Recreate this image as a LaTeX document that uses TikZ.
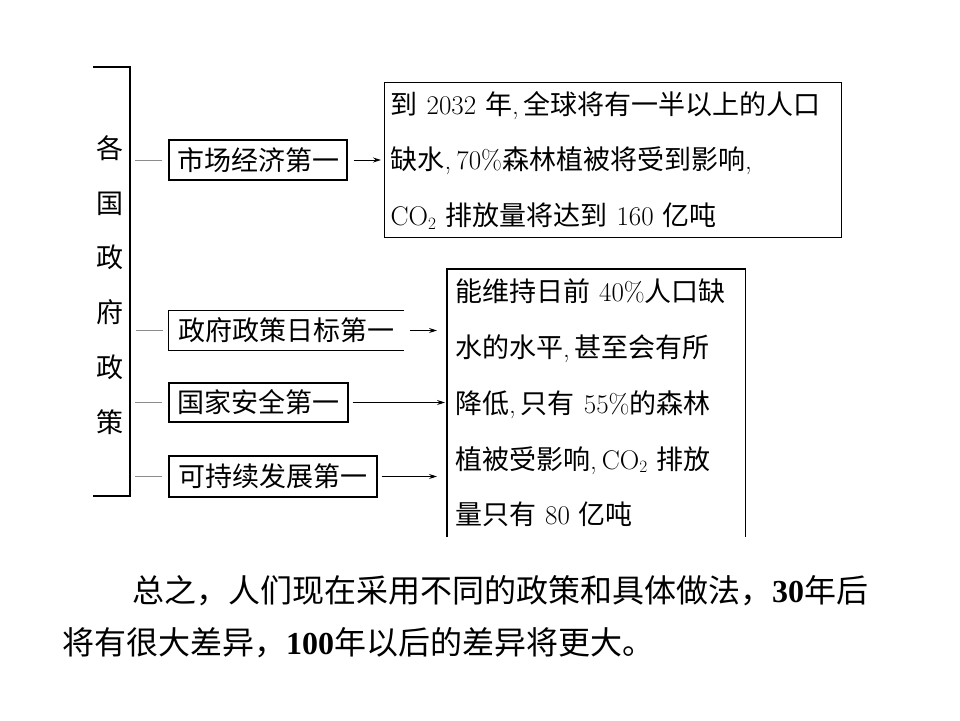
\documentclass[tikz,border=0pt]{standalone}
\usepackage{fontspec}
\newfontfamily\cjk{Noto Sans CJK SC}
\newfontfamily\tms{Liberation Serif}
\usetikzlibrary{arrows.meta}
\newcommand\lmtxt[1]{{\normalfont #1}}
\newcommand\cma{{\normalfont ,}\hspace{5pt}}
\XeTeXlinebreaklocale "zh"
\XeTeXlinebreakskip=0pt plus 4pt
\begin{document}
\begin{tikzpicture}[x=1pt,y=-1pt,
  pbox/.style={anchor=center, inner sep=0pt, font=\cjk\fontsize{27}{27}\selectfont, minimum height=40pt},
  bigbox/.style={anchor=north west, inner xsep=6pt, inner ysep=0pt, align=left, font=\cjk\fontsize{27}{55.5}\selectfont},
  frame/.style={line width=1.3pt},
  stub/.style={draw=black!45, line width=1pt},
  arr/.style={line width=0.9pt, -{Stealth[length=8pt,width=5pt]}},
  para/.style={anchor=west, inner sep=0pt, font=\cjk\fontsize{32}{32}\selectfont}
]
\useasboundingbox (0,0) rectangle (960,720);

% left bracket and vertical title
\coordinate (bt) at (93,67);
\coordinate (bb) at (93,496);
\draw[frame] (bt) -- ++(37,0) |- (bb);
\node[font=\cjk\fontsize{27}{54.8}\selectfont, align=center, inner sep=0pt] (col) at (110,285) {各\\国\\政\\府\\政\\策};

% policy boxes
\node[pbox, draw, frame, minimum width=178pt] (b1) at (258,160) {市场经济第一};
\node[pbox, minimum width=235pt, minimum height=39pt] (b2) at (286.5,330.5) {政府政策日标第一};
\draw[frame] (b2.north east) -- (b2.north west) -- (b2.south west) -- (b2.south east);
\node[pbox, draw, frame, minimum width=179pt, minimum height=39pt] (b3) at (258.5,402.5) {国家安全第一};
\node[pbox, draw, frame, minimum width=208pt, minimum height=41pt] (b4) at (273,476.5) {可持续发展第一};

% gray stubs
\foreach \b in {b1,b2,b3,b4}
  \draw[stub] ([xshift=-6pt]\b.west) -- ([xshift=-33pt]\b.west);

% result boxes
\node[bigbox, draw, frame, text width=445pt, minimum height=155pt] (c1) at (384,82)
 {到 \lmtxt{2032} 年\cma 全球将有一半以上的人口\\
  缺水\cma\lmtxt{70\%}森林植被将受到影响\cma\\
  \lmtxt{CO$_2$} 排放量将达到 \lmtxt{160} 亿吨};

\node[bigbox, inner xsep=8pt, text width=282pt, minimum height=268pt, font=\cjk\fontsize{27}{55.75}\selectfont] (c2) at (447,269)
 {能维持日前 \lmtxt{40\%}人口缺\\
  水的水平\cma 甚至会有所\\
  降低\cma 只有 \lmtxt{55\%}的森林\\
  植被受影响\cma\lmtxt{CO$_2$} 排放\\
  量只有 \lmtxt{80} 亿吨};
\draw[frame] (c2.south west) -- (c2.north west) -- (c2.north east) -- (c2.south east);

% arrows
\draw[arr] ([xshift=6pt]b1.east) -- ([xshift=-3pt]b1.east -| c1.west);
\draw[arr] ([xshift=6pt]b2.east) -- ([xshift=-10pt]b2.east -| c2.west);
\draw[arr] ([xshift=4pt]b3.east) -- ([xshift=-2pt]b3.east -| c2.west);
\draw[arr] ([xshift=4pt]b4.east) -- ([xshift=-10pt]b4.east -| c2.west);

% closing paragraph
\node[para] (p1) at (132,591) {\hbox to 733pt{总之，人们现在采用不同的政策和具体做法，{\tms\bfseries 30}年后}};
\node[para] (p2) at (62,643) {将有很大差异，{\tms\bfseries 100}年以后的差异将更大。};
\end{tikzpicture}
\end{document}
